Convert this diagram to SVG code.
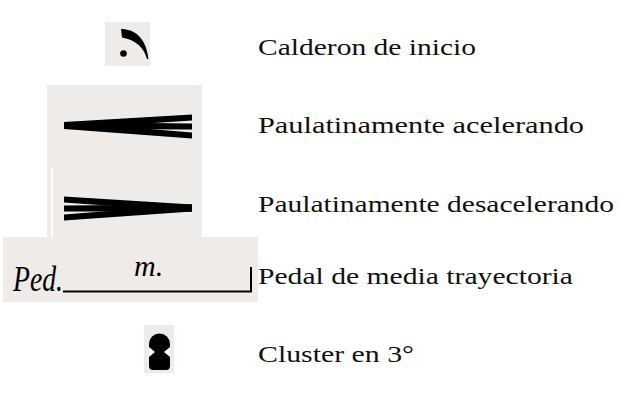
<svg xmlns="http://www.w3.org/2000/svg" width="620" height="399" viewBox="0 0 620 399">
<style>
.bg{fill:#efebe8}
.lbl{font-family:"Liberation Serif","Times New Roman",serif;font-size:24px;fill:#111}
.ink{fill:#000}
</style>
<rect width="620" height="399" fill="#fff"/>
<g id="calderon">
<rect class="bg" x="105" y="22" width="45" height="44"/>
<path class="ink" d="M121,29 C134,29 146,37 148.5,59 L147,59 C144,48 136,40 122,37.5 Z"/>
<circle class="ink" cx="123.5" cy="53.5" r="3.3"/>
<text class="lbl" x="258" y="55" textLength="218" lengthAdjust="spacingAndGlyphs">Calderon de inicio</text>
</g>
<g id="acelerando">
<rect class="bg" x="47" y="85" width="155" height="152"/>
<rect x="51" y="167" width="2" height="70" fill="#fff"/>
<polygon class="ink" points="64,122 192,114.5 192,120.5 64,129"/>
<polygon class="ink" points="64,122 192,123.5 192,129.5 64,129"/>
<polygon class="ink" points="64,122 192,132.5 192,138.5 64,129"/>
<text class="lbl" x="258" y="133" textLength="326" lengthAdjust="spacingAndGlyphs">Paulatinamente acelerando</text>
</g>
<g id="desacelerando">
<polygon class="ink" points="192,204.5 64,196.5 64,202.5 192,211.5"/>
<polygon class="ink" points="192,204.5 64,205.5 64,211.5 192,211.5"/>
<polygon class="ink" points="192,204.5 64,214.5 64,220.5 192,211.5"/>
<text class="lbl" x="258" y="212" textLength="356" lengthAdjust="spacingAndGlyphs">Paulatinamente desacelerando</text>
</g>
<g id="pedal">
<rect class="bg" x="3" y="237" width="255" height="65"/>
<text x="13" y="291" font-family="'Liberation Serif',serif" font-style="italic" font-size="36" textLength="50" lengthAdjust="spacingAndGlyphs" fill="#000">Ped.</text>
<text x="134" y="276" font-family="'Liberation Serif',serif" font-style="italic" font-size="30" fill="#000">m.</text>
<path d="M63,291.5 H251 V267" fill="none" stroke="#000" stroke-width="2"/>
<text class="lbl" x="258" y="284" textLength="315" lengthAdjust="spacingAndGlyphs">Pedal de media trayectoria</text>
</g>
<g id="cluster">
<rect class="bg" x="144" y="325" width="30" height="48"/>
<path class="ink" d="M149,344 A10.5,10.5 0 0 1 170,344 V366 Q170,370 166,370 H153 Q149,370 149,366 Z"/>
<polygon points="149,347 155,352 149,357" fill="#fff"/>
<polygon points="170,347 164,352 170,357" fill="#fff"/>
<text class="lbl" x="258" y="362" textLength="156" lengthAdjust="spacingAndGlyphs">Cluster en 3°</text>
</g>
</svg>
